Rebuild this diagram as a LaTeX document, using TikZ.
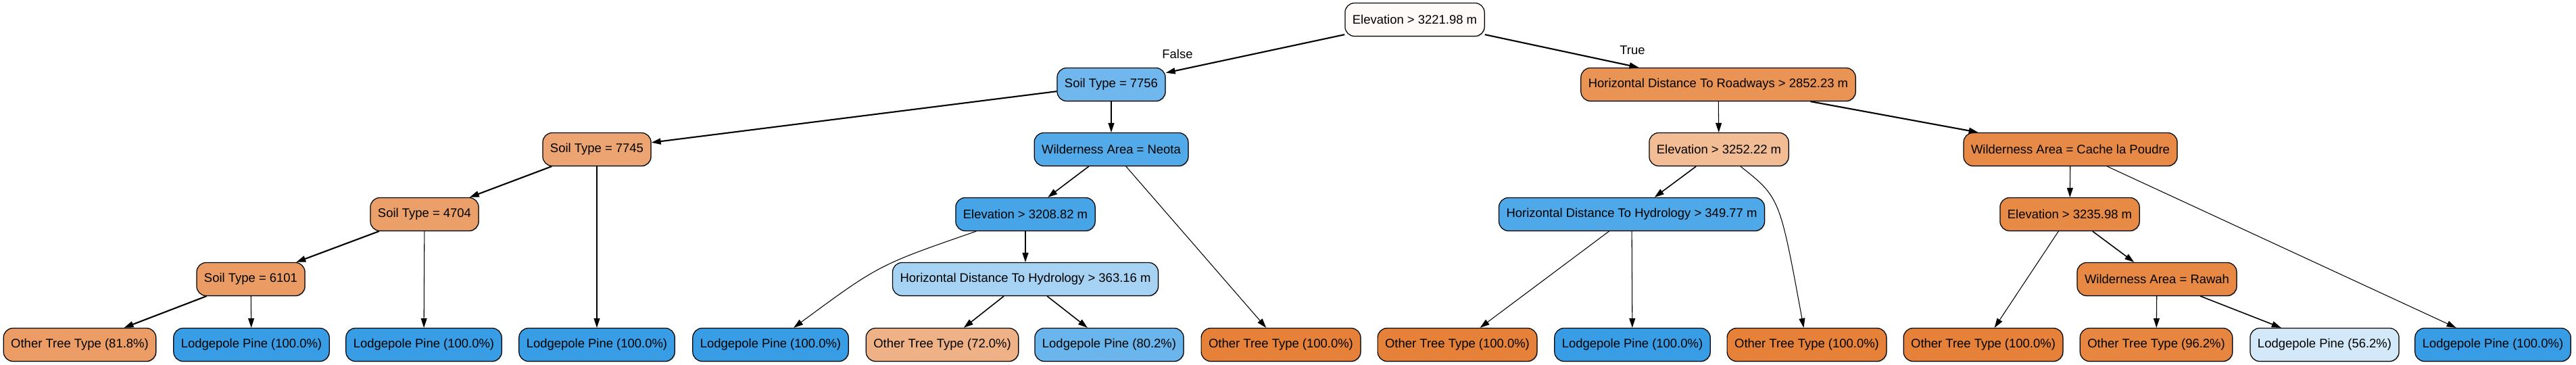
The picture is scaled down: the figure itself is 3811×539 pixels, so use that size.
\documentclass[tikz,border=0pt]{standalone}
\usepackage{fontspec}
\setmainfont{Liberation Sans}
\usetikzlibrary{arrows.meta,shadows}
\definecolor{cRoot}{HTML}{FEFAF7}
\definecolor{cSa}{HTML}{6FB7EC}
\definecolor{cHdr}{HTML}{E99355}
\definecolor{cSb}{HTML}{ECA572}
\definecolor{cNeota}{HTML}{53AAE8}
\definecolor{cEa}{HTML}{F2BC95}
\definecolor{cCache}{HTML}{E78A47}
\definecolor{cSc}{HTML}{EBA06A}
\definecolor{cEb}{HTML}{47A4E7}
\definecolor{cHa}{HTML}{4FA8E8}
\definecolor{cEc}{HTML}{E78A45}
\definecolor{cSd}{HTML}{EB9C64}
\definecolor{cHb}{HTML}{A6D3F3}
\definecolor{cRawah}{HTML}{E78945}
\definecolor{cOTTa}{HTML}{EB9D65}
\definecolor{cLP}{HTML}{399DE5}
\definecolor{cOTTb}{HTML}{EFB286}
\definecolor{cLPb}{HTML}{6AB5EB}
\definecolor{cOTT}{HTML}{E58139}
\definecolor{cOTTc}{HTML}{E68641}
\definecolor{cLPc}{HTML}{D3E9F9}
\begin{document}
\begin{tikzpicture}[x=0.01cm,y=-0.01cm,
  every node/.style={font=\fontsize{5.25}{6}\selectfont},
  box/.style={draw=black, line width=0.35pt, rounded corners=0.14cm,
    inner xsep=0.11cm, inner ysep=0pt, minimum height=0.49cm,
    drop shadow={shadow xshift=0.01cm, shadow yshift=-0.012cm, fill=black!35, opacity=0.6}},
  edge/.style={draw=black, -{Triangle[length=0.14cm,width=0.09cm]}},
  thinedge/.style={edge, line width=0.3pt},
  midedge/.style={edge, line width=0.45pt},
  thickedge/.style={edge, line width=0.6pt},
  lbl/.style={inner sep=1pt}
]
\useasboundingbox (0,0) rectangle (3811,539);
% level 0
\node[box, fill=cRoot] (root) at (2093,29) {Elevation > 3221.98 m};
% level 1
\node[box, fill=cSa] (s7756) at (1644,125) {Soil Type = 7756};
\node[box, fill=cHdr] (hdr) at (2542,125) {Horizontal Distance To Roadways > 2852.23 m};
% level 2
\node[box, fill=cSb] (s7745) at (883,221) {Soil Type = 7745};
\node[box, fill=cNeota] (neota) at (1644,221) {Wilderness Area = Neota};
\node[box, fill=cEa] (e3252) at (2543,221) {Elevation > 3252.22 m};
\node[box, fill=cCache] (cache) at (3063,221) {Wilderness Area = Cache la Poudre};
% level 3
\node[box, fill=cSc] (s4704) at (628,317) {Soil Type = 4704};
\node[box, fill=cEb] (e3208) at (1517,317) {Elevation > 3208.82 m};
\node[box, fill=cHa] (hd349) at (2414,317) {Horizontal Distance To Hydrology > 349.77 m};
\node[box, fill=cEc] (e3235) at (3062,317) {Elevation > 3235.98 m};
% level 4
\node[box, fill=cSd] (s6101) at (371,413) {Soil Type = 6101};
\node[box, fill=cHb] (hd363) at (1517,413) {Horizontal Distance To Hydrology > 363.16 m};
\node[box, fill=cRawah] (rawah) at (3191,413) {Wilderness Area = Rawah};
% leaves
\node[box, fill=cOTTa] (l1) at (118,510) {Other Tree Type (81.8\%)};
\node[box, fill=cLP] (l2) at (372,510) {Lodgepole Pine (100.0\%)};
\node[box, fill=cLP] (l3) at (627,510) {Lodgepole Pine (100.0\%)};
\node[box, fill=cLP] (l4) at (883,510) {Lodgepole Pine (100.0\%)};
\node[box, fill=cLP] (l5) at (1140,510) {Lodgepole Pine (100.0\%)};
\node[box, fill=cOTTb] (l6) at (1394,510) {Other Tree Type (72.0\%)};
\node[box, fill=cLPb] (l7) at (1641,510) {Lodgepole Pine (80.2\%)};
\node[box, fill=cOTT] (l8) at (1895,510) {Other Tree Type (100.0\%)};
\node[box, fill=cOTT] (l9) at (2156,510) {Other Tree Type (100.0\%)};
\node[box, fill=cLP] (l10) at (2415,510) {Lodgepole Pine (100.0\%)};
\node[box, fill=cOTT] (l11) at (2673,510) {Other Tree Type (100.0\%)};
\node[box, fill=cOTT] (l12) at (2934,510) {Other Tree Type (100.0\%)};
\node[box, fill=cOTTc] (l13) at (3190,510) {Other Tree Type (96.2\%)};
\node[box, fill=cLPc] (l14) at (3439,510) {Lodgepole Pine (56.2\%)};
\node[box, fill=cLP] (l15) at (3688,510) {Lodgepole Pine (100.0\%)};
% edge labels
\node[lbl] (lfalse) at (1742,80) {False};
\node[lbl] (ltrue) at (2415,74) {True};
% bend points
\coordinate (bA) at (1300,392);
\coordinate (bB) at (2633,292);
% edges
\draw[thickedge] (root) -- (s7756);
\draw[thickedge] (root) -- (hdr);
\draw[thickedge] (s7756) -- (s7745);
\draw[thinedge] (s7756) -- (neota);
\draw[thinedge] (hdr) -- (e3252);
\draw[thickedge] (hdr) -- (cache);
\draw[thickedge] (s7745) -- (s4704);
\draw[thinedge] (s7745) -- (l4);
\draw[midedge] (neota) -- (e3208);
\draw[thinedge] (neota) -- (l8);
\draw[midedge] (e3252) -- (hd349);
\draw[thinedge] (e3252) .. controls (bB) .. (l11);
\draw[thinedge] (cache) -- (e3235);
\draw[thinedge] (cache) -- (l15);
\draw[thickedge] (s4704) -- (s6101);
\draw[thinedge] (s4704) -- (l3);
\draw[thinedge] (e3208) .. controls (bA) .. (l5);
\draw[thinedge] (e3208) -- (hd363);
\draw[thinedge] (hd349) -- (l9);
\draw[thinedge] (hd349) -- (l10);
\draw[thinedge] (e3235) -- (l12);
\draw[midedge] (e3235) -- (rawah);
\draw[thickedge] (s6101) -- (l1);
\draw[thinedge] (s6101) -- (l2);
\draw[midedge] (hd363) -- (l6);
\draw[midedge] (hd363) -- (l7);
\draw[thinedge] (rawah) -- (l13);
\draw[midedge] (rawah) -- (l14);
\end{tikzpicture}
\end{document}
